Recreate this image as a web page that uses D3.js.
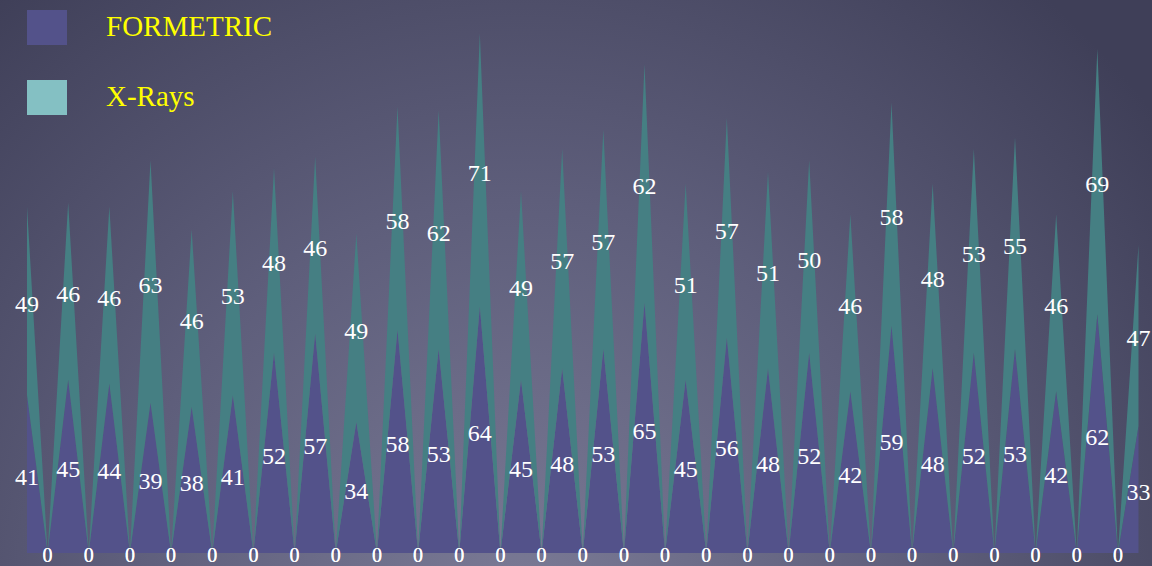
<!DOCTYPE html>
<html>
<head>
<meta charset="utf-8">
<script src="https://cdn.jsdelivr.net/npm/d3@7"></script>
<style>
  html, body { margin: 0; padding: 0; background: #4a4a64; }
  svg { display: block; }
</style>
</head>
<body>
<svg id="chart" width="1152" height="566"></svg>
<script>
// Series names shown in the legend
const seriesNames = ["FORMETRIC", "X-Rays"];

// Measured values per point (each reading is followed by a zero point)
const formetric = [41,0,45,0,44,0,39,0,38,0,41,0,52,0,57,0,34,0,58,0,53,0,64,0,45,0,48,0,53,0,65,0,45,0,56,0,48,0,52,0,42,0,59,0,48,0,52,0,53,0,42,0,62,0,33];
const xrays     = [49,0,46,0,46,0,63,0,46,0,53,0,48,0,46,0,49,0,58,0,62,0,71,0,49,0,57,0,57,0,62,0,51,0,57,0,51,0,50,0,46,0,58,0,48,0,53,0,55,0,46,0,69,0,47];

// Area and legend colours
const areaColors   = ["#53528a", "#457f83"];
const legendColors = ["#53528a", "#84c0c3"];

const W = 1152, H = 566;
const svg = d3.select("#chart");

// Background: soft radial gradient, lighter toward the lower middle
const defs = svg.append("defs");
const grad = defs.append("radialGradient")
  .attr("id", "bg")
  .attr("gradientUnits", "userSpaceOnUse")
  .attr("cx", 520).attr("cy", 600).attr("r", 800);
grad.append("stop").attr("offset", 0).attr("stop-color", "#7a7a95");
grad.append("stop").attr("offset", 0.5).attr("stop-color", "#5e5e7b");
grad.append("stop").attr("offset", 1).attr("stop-color", "#3f3f58");
svg.append("rect").attr("width", W).attr("height", H).attr("fill", "url(#bg)");

// Table built from the arrays for the stack layout
const rows = formetric.map((v, i) => ({ i, FORMETRIC: v, "X-Rays": xrays[i] }));

const x = d3.scaleLinear().domain([0, rows.length - 1]).range([27, 1138.5]);
const y = d3.scaleLinear().domain([0, 140]).range([553, 14]);

const stacked = d3.stack().keys(seriesNames)(rows);

const area = d3.area()
  .x(d => x(d.data.i))
  .y0(d => y(d[0]))
  .y1(d => y(d[1]));

svg.append("g").selectAll("path")
  .data(stacked)
  .join("path")
  .attr("d", area)
  .attr("fill", (d, k) => areaColors[k]);

// Value labels in the middle of each stacked segment;
// zero readings sit on the baseline in a slightly smaller size
const labelFont = "'Liberation Serif', 'DejaVu Serif', serif";
stacked.forEach(layer => {
  svg.append("g").selectAll("text")
    .data(layer)
    .join("text")
    .attr("x", d => x(d.data.i))
    .attr("y", d => d.data[layer.key] === 0 ? y(0) + 2 : y((d[0] + d[1]) / 2) + 3)
    .attr("text-anchor", "middle")
    .attr("dominant-baseline", "central")
    .attr("font-family", labelFont)
    .attr("font-size", d => d.data[layer.key] === 0 ? 20 : 24)
    .attr("fill", "#ffffff")
    .text(d => d.data[layer.key]);
});

// Legend
const legend = svg.append("g");
seriesNames.forEach((name, k) => {
  const top = 10 + k * 70;
  legend.append("rect")
    .attr("x", 27).attr("y", top)
    .attr("width", 40).attr("height", 35)
    .attr("fill", legendColors[k]);
  legend.append("text")
    .attr("x", 106).attr("y", top + 26)
    .attr("font-family", labelFont)
    .attr("font-size", 29)
    .attr("fill", "#ffff00")
    .text(name);
});
</script>
</body>
</html>
